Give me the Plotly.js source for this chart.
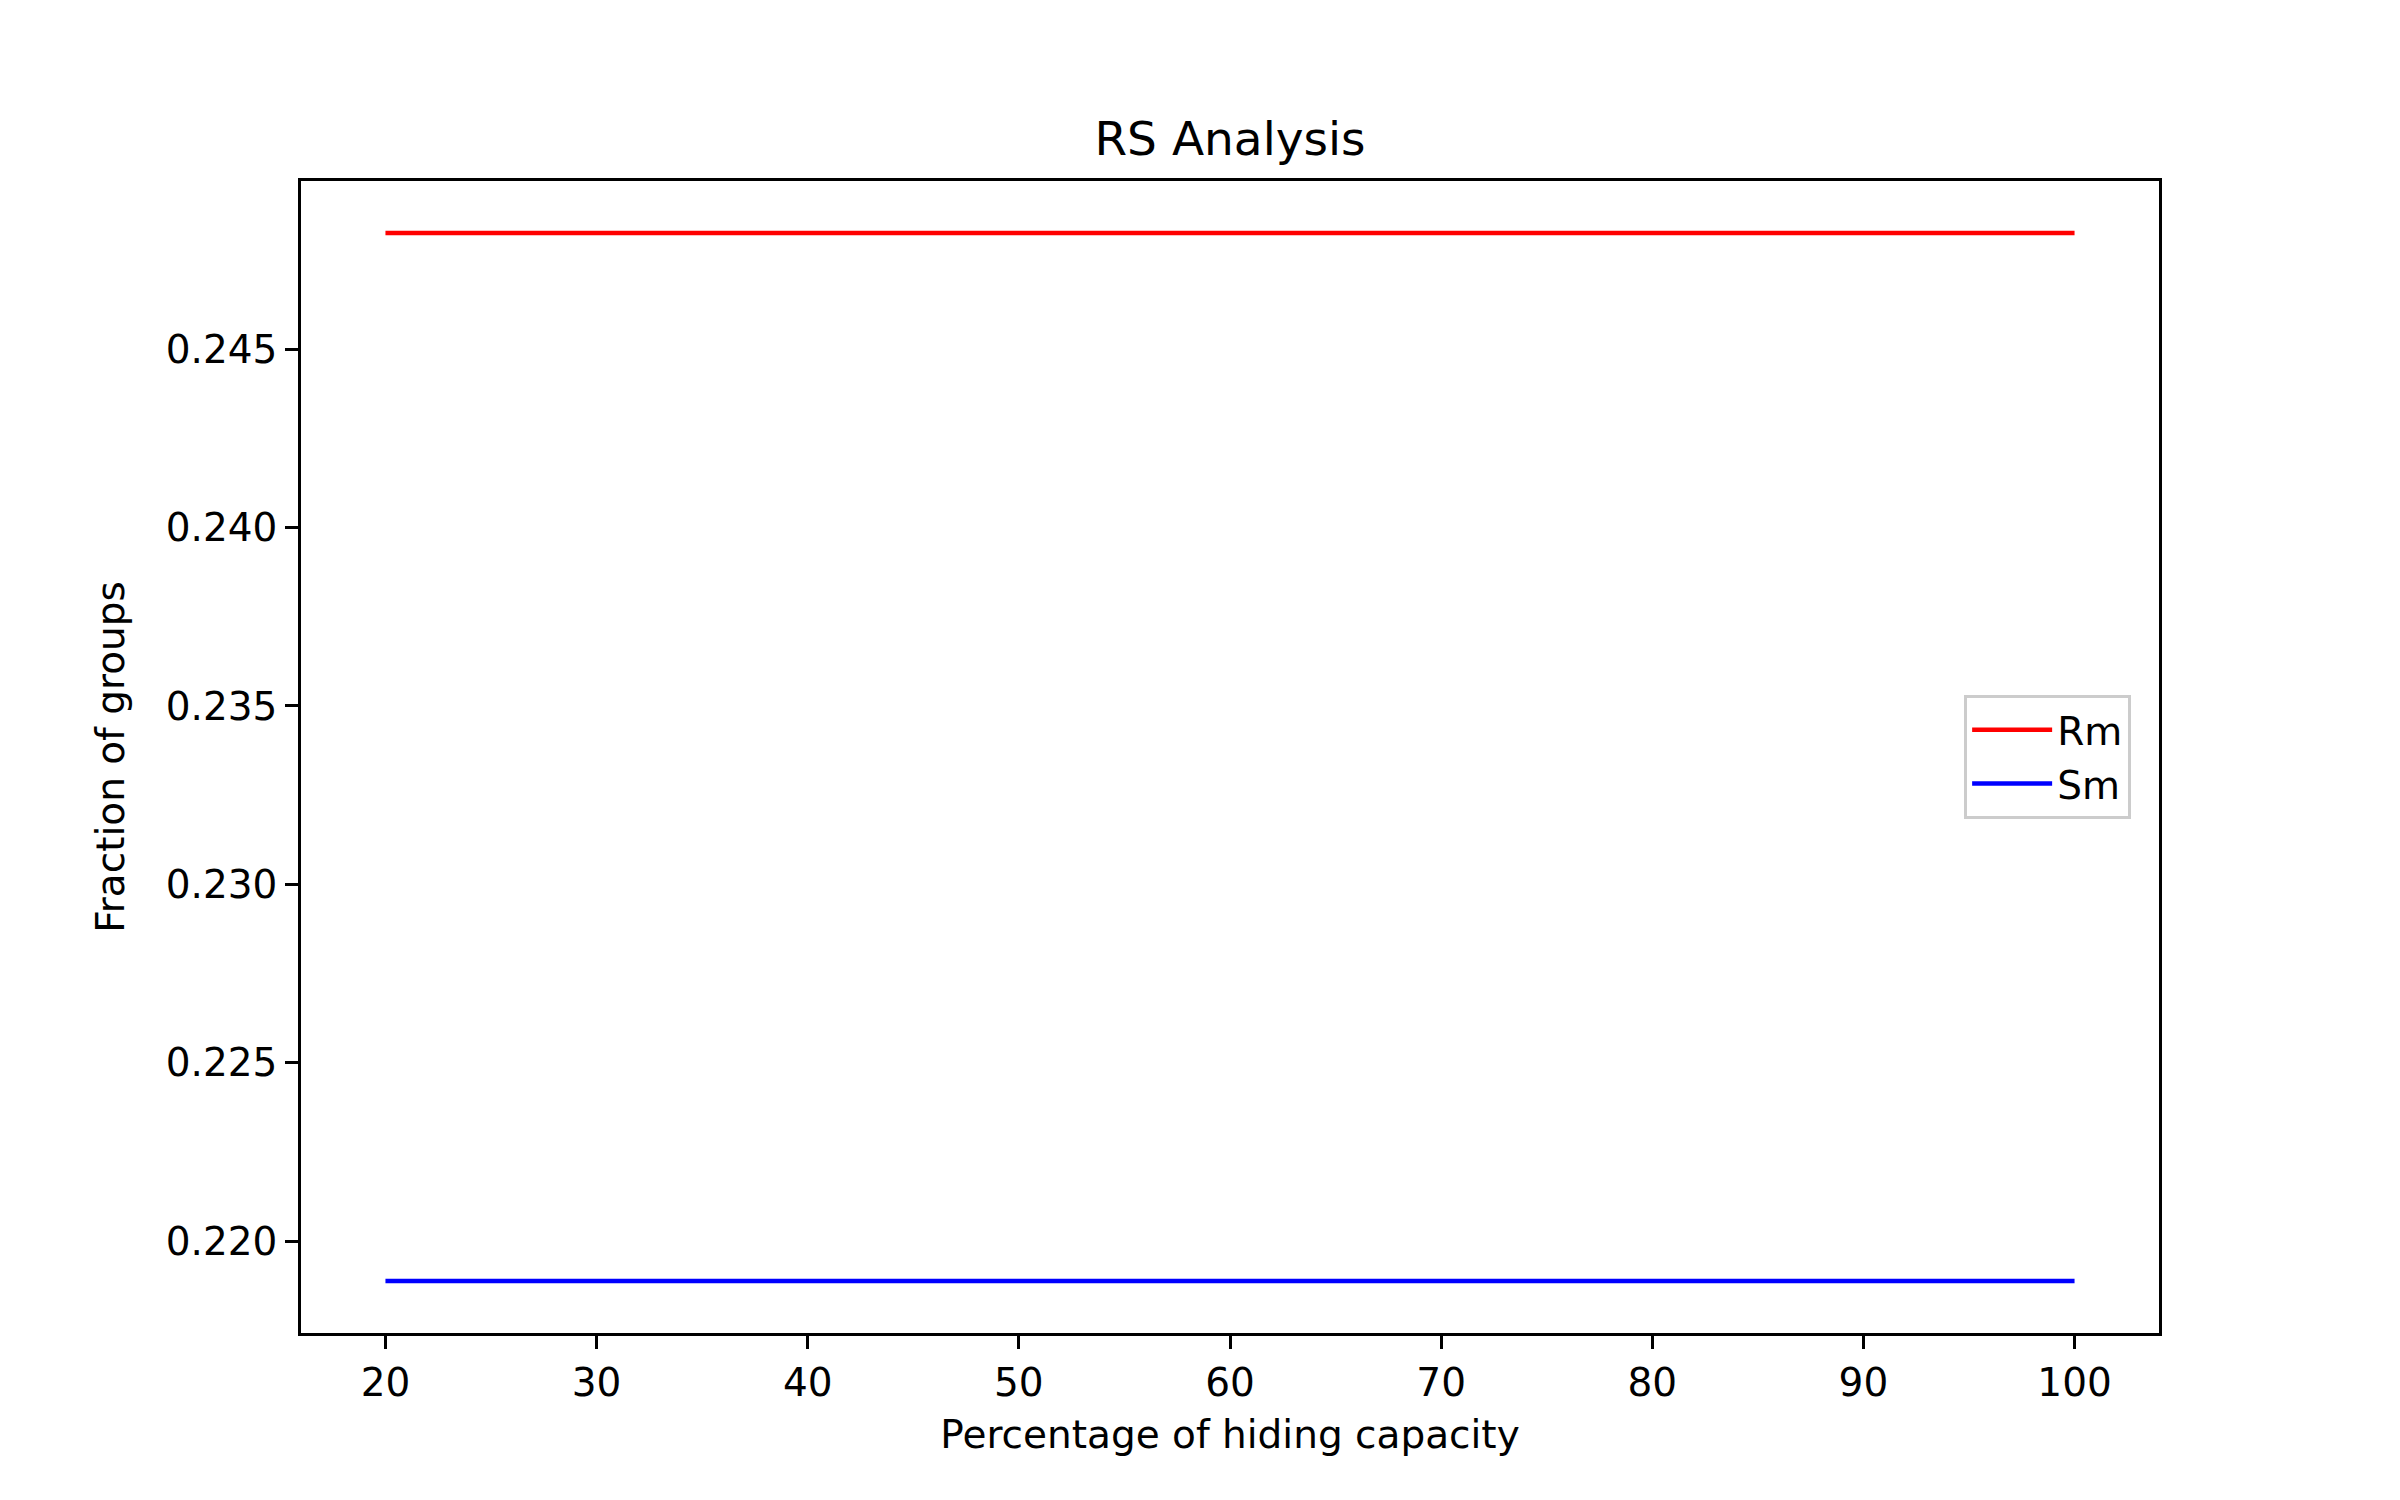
<!DOCTYPE html>
<html><head><script src="https://cdn.plot.ly/plotly-3.0.1.min.js"></script>
<style>body{margin:0}</style></head><body><div id="c" style="width:2400px;height:1500px"></div>
<script>
const xs = [20, 30, 40, 50, 60, 70, 80, 90, 100];
const rm = [0.24825, 0.24825, 0.24825, 0.24825, 0.24825, 0.24825, 0.24825, 0.24825, 0.24825];
const sm = [0.21889, 0.21889, 0.21889, 0.21889, 0.21889, 0.21889, 0.21889, 0.21889, 0.21889];
const yTicks = [0.220, 0.225, 0.230, 0.235, 0.240, 0.245];
const F = 'DejaVu Sans, sans-serif';
const ax = {showline:true, mirror:true, linecolor:'#000', linewidth:2.5, ticks:'outside', ticklen:13, tickwidth:2.5, tickcolor:'#000', showgrid:false, zeroline:false, tickfont:{family:F,size:39,color:'#000'}};
Plotly.newPlot('c', [
 {x:xs, y:rm, mode:'lines', name:'Rm', line:{color:'red', width:4.5}},
 {x:xs, y:sm, mode:'lines', name:'Sm', line:{color:'blue', width:4.5}}
], {
 width:2400, height:1500, paper_bgcolor:'#fff', plot_bgcolor:'#fff',
 margin:{l:301, r:241, t:181, b:167},
 title:{text:'RS Analysis', font:{family:F,size:47,color:'#000'}, x:0.5, xref:'paper', y:1, yref:'paper', yanchor:'bottom', pad:{b:26}},
 xaxis:Object.assign({}, ax, {range:[16,104], tickvals:xs, title:{text:'Percentage of hiding capacity', font:{family:F,size:39,color:'#000'}, standoff:18}}),
 yaxis:Object.assign({}, ax, {range:[0.21743,0.24971], tickvals:yTicks, ticktext:yTicks.map(v=>v.toFixed(3)), title:{text:'Fraction of groups', font:{family:F,size:39,color:'#000'}, standoff:30}}),
 legend:{x:0.985, xanchor:'right', y:0.5, yanchor:'middle', bordercolor:'#ccc', borderwidth:3, bgcolor:'#fff', font:{family:F,size:39,color:'#000'}, itemwidth:80, tracegroupgap:20}
}, {displayModeBar:false});
</script></body></html>
